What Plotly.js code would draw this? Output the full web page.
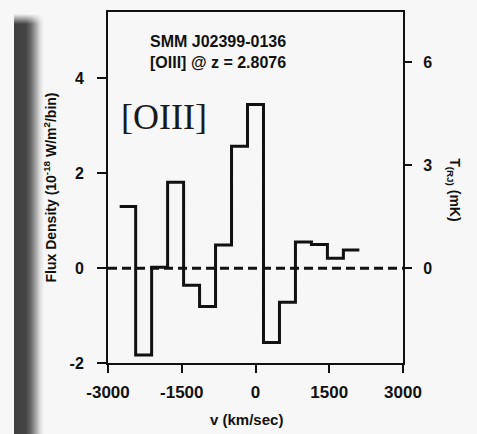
<!DOCTYPE html>
<html>
<head>
<meta charset="utf-8">
<script src="https://cdn.plot.ly/plotly-3.0.1.min.js"></script>
<style>
  html, body { margin: 0; padding: 0; }
  body {
    width: 477px; height: 434px; overflow: hidden;
    background: #f7f7f7;
    position: relative;
  }
  #strip {
    position: absolute; left: 14px; top: 14px; width: 30px; height: 420px;
    background: linear-gradient(to right, #404040 0px, #444 12px, #6a6a6a 17px, #a8a8a8 22px, #dcdcdc 26px, #f7f7f7 30px);
    -webkit-mask-image: linear-gradient(to bottom, transparent 0px, black 10px);
    mask-image: linear-gradient(to bottom, transparent 0px, black 10px);
  }
  #chart { position: absolute; left: 0; top: 0; width: 477px; height: 434px; }
</style>
</head>
<body>
<div id="strip"></div>
<div id="chart"></div>
<script>
// ---- data ----
const velocityCenters = [-2600, -2275, -1950, -1625, -1300, -975, -650, -325, 0, 325, 650, 975, 1300, 1625, 1950]; // km/s, bin centres
const fluxDensity = [1.30, -1.83, 0.02, 1.81, -0.36, -0.81, 0.49, 2.57, 3.45, -1.57, -0.72, 0.55, 0.50, 0.21, 0.38]; // 1e-18 W/m^2/bin
const binWidth = 325; // km/s
const xTickVals = [-3000, -1500, 0, 1500, 3000];
const yTickVals = [-2, 0, 2, 4];
const tTickVals = [0, 3, 6];
const fluxToMilliKelvin = 1.3836;
const yRange = [-2, 5.4];

// step outline: left edges of each bin + final right edge
const stepX = velocityCenters.map(c => c - binWidth / 2);
stepX.push(velocityCenters[velocityCenters.length - 1] + binWidth / 2);
const stepY = fluxDensity.slice();
stepY.push(fluxDensity[fluxDensity.length - 1]);

const ink = '#111111';
const fontFam = '"Liberation Sans", Arial, sans-serif';

const traces = [
  {
    x: stepX, y: stepY, type: 'scatter', mode: 'lines',
    line: { shape: 'hv', color: ink, width: 3 },
    hoverinfo: 'skip', showlegend: false
  },
  {
    x: [null], y: [null], yaxis: 'y2', type: 'scatter', mode: 'lines',
    showlegend: false, hoverinfo: 'skip'
  }
];

const layout = {
  width: 477, height: 434,
  margin: { l: 108, r: 74, t: 12, b: 71, pad: 0 },
  paper_bgcolor: 'rgba(0,0,0,0)',
  plot_bgcolor: 'rgba(0,0,0,0)',
  showlegend: false,
  font: { family: fontFam, color: ink },
  xaxis: {
    range: [-3000, 3000], tickvals: xTickVals, ticktext: xTickVals.map(String),
    ticks: 'outside', ticklen: 8, tickwidth: 2, tickcolor: ink,
    showline: true, linewidth: 2, linecolor: ink, mirror: true,
    showgrid: false, zeroline: false,
    tickfont: { size: 17, weight: 'bold', family: fontFam, color: ink },
    ticklabelstandoff: 5
  },
  yaxis: {
    range: yRange, tickvals: yTickVals, ticktext: yTickVals.map(String),
    ticks: 'outside', ticklen: 9, tickwidth: 2, tickcolor: ink,
    showline: true, linewidth: 2, linecolor: ink, mirror: true,
    showgrid: false, zeroline: false,
    tickfont: { size: 16, weight: 'bold', family: fontFam, color: ink },
    ticklabelstandoff: 10,
    title: { text: 'Flux Density (10<sup>-18</sup> W/m<sup>2</sup>/bin)', font: { size: 14, weight: 'bold', family: fontFam, color: ink }, standoff: 10 }
  },
  yaxis2: {
    overlaying: 'y', side: 'right',
    range: yRange.map(v => v * fluxToMilliKelvin), tickvals: tTickVals, ticktext: tTickVals.map(String),
    ticks: 'outside', ticklen: 8, tickwidth: 2, tickcolor: ink,
    showline: false, showgrid: false, zeroline: false,
    tickfont: { size: 16, weight: 'bold', family: fontFam, color: ink },
    ticklabelstandoff: 8
  },
  shapes: [
    { type: 'line', xref: 'paper', x0: 0, x1: 1, yref: 'y', y0: 0, y1: 0,
      line: { color: ink, width: 3, dash: '9px,5px' }, layer: 'below' }
  ],
  annotations: [
    { text: 'SMM J02399-0136<br>[OIII] @ z = 2.8076', xref: 'paper', yref: 'paper',
      x: 0.136, y: 0.887, xanchor: 'left', yanchor: 'middle', align: 'left', showarrow: false,
      font: { size: 16, weight: 'bold', family: fontFam, color: ink } },
    { text: '[OIII]', xref: 'paper', yref: 'paper', x: 0.19, y: 0.70,
      xanchor: 'center', yanchor: 'middle', showarrow: false,
      font: { size: 36, family: '"Liberation Serif", "Times New Roman", serif', color: '#1a1a1a' } },
    { text: 'v (km/sec)', xref: 'paper', yref: 'paper', x: 0.471, y: -0.162,
      xanchor: 'center', yanchor: 'middle', showarrow: false,
      font: { size: 15, weight: 'bold', family: fontFam, color: ink } },
    { text: 'T<sub>(RJ)</sub> (mK)', xref: 'paper', yref: 'paper', x: 1.172, y: 0.493,
      xanchor: 'center', yanchor: 'middle', textangle: 90, showarrow: false,
      font: { size: 14, weight: 'bold', family: fontFam, color: ink } }
  ]
};

Plotly.newPlot('chart', traces, layout, { displayModeBar: false, staticPlot: true });
</script>
</body>
</html>
